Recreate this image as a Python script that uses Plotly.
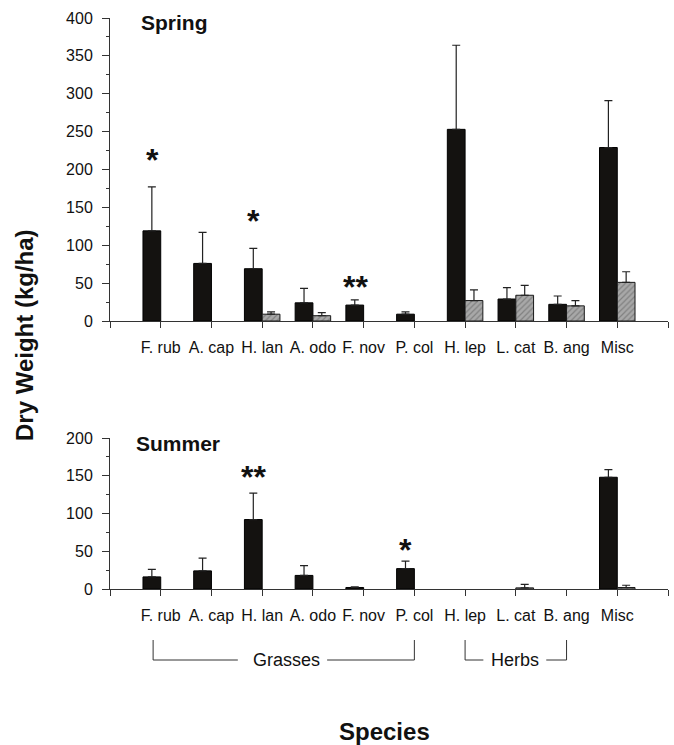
import plotly.graph_objects as go

species = ["F. rub", "A. cap", "H. lan", "A. odo", "F. nov", "P. col", "H. lep", "L. cat", "B. ang", "Misc"]

spring_black = [119, 76, 69, 24, 21, 9, 253, 29, 22, 229]
spring_black_err = [177, 117, 96, 43, 28, 12, 364, 44, 33, 291]
spring_hatch = [None, None, 9, 7, None, None, 27, 34, 20, 51]
spring_hatch_err = [None, None, 12, 11, None, None, 41, 47, 27, 65]

summer_black = [16, 24, 92, 18, 2, 27, None, None, None, 148]
summer_black_err = [26, 41, 127, 31, 3, 37, None, None, None, 158]
summer_hatch = [None, None, None, None, None, None, None, 1.5, None, 2]
summer_hatch_err = [None, None, None, None, None, None, None, 6, None, 5]

spring_stars = {"F. rub": ("*", 218), "H. lan": ("*", 137), "F. nov": ("**", 50), "H. lep": ("*", 406)}
summer_stars = {"H. lan": ("**", 154), "P. col": ("*", 57)}

W, H = 674, 745
FONT = "Liberation Sans, Arial, Helvetica, sans-serif"
xpos = list(range(1, len(species) + 1))

def px(x):
    return x / W

def py(y):
    return 1 - y / H

def up_err(vals, tops):
    return [None if v is None else max(t - v, 0) for v, t in zip(vals, tops)]

fig = go.Figure()

for vals, errs, hv, he, xa, ya in [
    (spring_black, spring_black_err, spring_hatch, spring_hatch_err, "x", "y"),
    (summer_black, summer_black_err, summer_hatch, summer_hatch_err, "x2", "y2"),
]:
    fig.add_trace(go.Bar(
        x=xpos, y=vals, xaxis=xa, yaxis=ya,
        marker=dict(color="#141210", line=dict(color="#000000", width=1)),
        error_y=dict(type="data", symmetric=False, array=up_err(vals, errs),
                     arrayminus=[0] * len(vals), color="#222", thickness=1.2, width=4,
                     visible=True),
        showlegend=False, hoverinfo="skip",
    ))
    fig.add_trace(go.Bar(
        x=xpos, y=hv, xaxis=xa, yaxis=ya,
        marker=dict(color="#9a9a9a", line=dict(color="#1a1a1a", width=1),
                    pattern=dict(shape="/", bgcolor="#a8a8a8", fgcolor="#5a5a5a",
                                 size=4, solidity=0.3)),
        error_y=dict(type="data", symmetric=False, array=up_err(hv, he),
                     arrayminus=[0] * len(hv), color="#222", thickness=1.2, width=4,
                     visible=True),
        showlegend=False, hoverinfo="skip",
    ))

xdom = [px(110), px(668)]
xaxis_common = dict(
    range=[0, 11], tickmode="array", tickvals=list(range(0, 12)),
    ticktext=[""] + species + [""], ticks="outside", ticklen=6, tickcolor="#333",
    showline=True, linecolor="#333", linewidth=1, showgrid=False, zeroline=False,
    tickfont=dict(family=FONT, size=16, color="#111"), automargin=False,
    ticklabelstandoff=6, domain=xdom, fixedrange=True,
)
yaxis_common = dict(
    ticks="outside", ticklen=7, tickcolor="#333", showline=True, linecolor="#333",
    linewidth=1, showgrid=False, zeroline=False,
    tickfont=dict(family=FONT, size=16, color="#111"), automargin=False,
    ticklabelstandoff=6, fixedrange=True,
    minor=dict(ticks="outside", ticklen=3, dtick=25, tickcolor="#333"),
)

fig.update_layout(
    width=W, height=H, margin=dict(l=0, r=0, t=0, b=0),
    paper_bgcolor="white", plot_bgcolor="white",
    barmode="group", bargap=0.3, bargroupgap=0,
    xaxis=dict(**xaxis_common, anchor="y"),
    yaxis=dict(**yaxis_common, range=[0, 400], dtick=50, domain=[py(321), py(18)], anchor="x"),
    xaxis2=dict(**xaxis_common, anchor="y2"),
    yaxis2=dict(**yaxis_common, range=[0, 200], dtick=50, domain=[py(589), py(438)], anchor="x2"),
)

ann = []
star_font = dict(family=FONT, size=32, color="#111")
for name, (s, yv) in spring_stars.items():
    ann.append(dict(x=xpos[species.index(name)] - 0.17, y=yv, xref="x", yref="y",
                    text="<b>" + s + "</b>", showarrow=False, font=star_font,
                    xanchor="center", yanchor="middle", yshift=-4))
for name, (s, yv) in summer_stars.items():
    ann.append(dict(x=xpos[species.index(name)] - 0.17, y=yv, xref="x2", yref="y2",
                    text="<b>" + s + "</b>", showarrow=False, font=star_font,
                    xanchor="center", yanchor="middle", yshift=-4))

ann.append(dict(x=px(139), y=py(22), xref="paper", yref="paper", text="<b>Spring</b>",
                xanchor="left", yanchor="middle", showarrow=False,
                font=dict(family=FONT, size=21, color="#111")))
ann.append(dict(x=px(134), y=py(443), xref="paper", yref="paper", text="<b>Summer</b>",
                xanchor="left", yanchor="middle", showarrow=False,
                font=dict(family=FONT, size=21, color="#111")))
ann.append(dict(x=px(24), y=py(335), xref="paper", yref="paper", text="<b>Dry Weight (kg/ha)</b>",
                textangle=-90, showarrow=False, xanchor="center", yanchor="middle",
                font=dict(family=FONT, size=24, color="#111")))
ann.append(dict(x=px(384), y=py(731), xref="paper", yref="paper", text="<b>Species</b>",
                showarrow=False, xanchor="center", yanchor="middle",
                font=dict(family=FONT, size=24, color="#111")))
ann.append(dict(x=3.47, y=py(660), xref="x2", yref="paper", text="Grasses",
                showarrow=False, xanchor="center", yanchor="middle",
                font=dict(family=FONT, size=18, color="#111")))
ann.append(dict(x=7.99, y=py(660), xref="x2", yref="paper", text="Herbs",
                showarrow=False, xanchor="center", yanchor="middle",
                font=dict(family=FONT, size=18, color="#111")))

shapes = []
line = dict(color="#333", width=1)
def seg(x0, y0, x1, y1):
    shapes.append(dict(type="line", xref="x2", yref="paper", x0=x0, x1=x1,
                       y0=py(y0), y1=py(y1), line=line))
# Grasses bracket
seg(0.85, 640, 0.85, 660)
seg(0.85, 660, 2.52, 660)
seg(4.28, 660, 6.0, 660)
seg(6.0, 660, 6.0, 640)
# Herbs bracket
seg(7.0, 640, 7.0, 660)
seg(7.0, 660, 7.36, 660)
seg(8.6, 660, 9.0, 660)
seg(9.0, 660, 9.0, 640)

fig.update_layout(annotations=ann, shapes=shapes)
fig.write_html("out.html", config={"displayModeBar": False},
               post_script="document.body.style.margin='0';document.body.style.overflow='hidden';")
